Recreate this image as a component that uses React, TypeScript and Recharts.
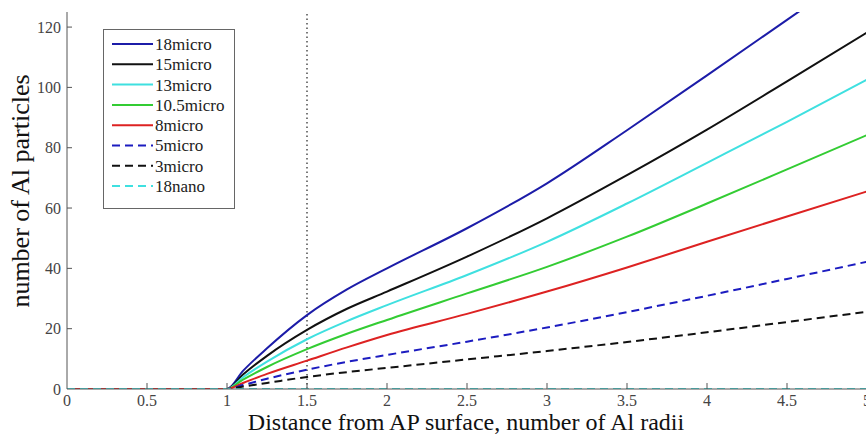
import React from "react";
import { LineChart, Line, XAxis, YAxis, ReferenceLine, Legend, Label } from "recharts";

// Distance from the AP surface, in Al radii
const distance = [0, 1, 1.1, 1.25, 1.5, 1.75, 2, 2.5, 3, 3.5, 4, 4.5, 5];

// Number of Al particles for each particle size
const s18micro = [0, 0, 6.0, 13.5, 24.5, 33.0, 40.0, 53.3, 68.2, 85.8, 104.0, 122.4, 140.8];
const s15micro = [0, 0, 4.8, 11.0, 19.6, 26.6, 32.3, 43.9, 56.6, 70.9, 86.0, 102.0, 118.2];
const s13micro = [0, 0, 3.9, 9.1, 16.5, 22.5, 27.8, 37.8, 48.8, 61.5, 75.0, 88.6, 102.6];
const s10p5micro = [0, 0, 3.1, 7.3, 13.2, 18.3, 22.9, 31.7, 40.5, 50.5, 61.5, 72.8, 84.2];
const s8micro = [0, 0, 2.0, 5.0, 9.4, 13.8, 17.9, 24.9, 32.3, 40.3, 48.8, 57.2, 65.5];
const s5micro = [0, 0, 1.3, 3.4, 6.4, 9.0, 11.3, 15.7, 20.4, 25.5, 30.9, 36.5, 42.2];
const s3micro = [0, 0, 0.8, 2.0, 4.0, 5.6, 7.0, 9.8, 12.6, 15.6, 18.8, 22.2, 25.6];
const s18nano = [0, 0, 0, 0, 0, 0, 0, 0, 0, 0, 0, 0, 0];

const xTicks = [0, 0.5, 1, 1.5, 2, 2.5, 3, 3.5, 4, 4.5, 5];
const yTicks = [0, 20, 40, 60, 80, 100, 120];
const markerDistance = 1.5;

const seriesList = [
  { key: "18micro", values: s18micro, color: "#1c1ca8", dash: undefined },
  { key: "15micro", values: s15micro, color: "#111111", dash: undefined },
  { key: "13micro", values: s13micro, color: "#3fe0e0", dash: undefined },
  { key: "10.5micro", values: s10p5micro, color: "#33cc33", dash: undefined },
  { key: "8micro", values: s8micro, color: "#dd2222", dash: undefined },
  { key: "5micro", values: s5micro, color: "#1c1cc0", dash: "8 5" },
  { key: "3micro", values: s3micro, color: "#111111", dash: "8 5" },
  { key: "18nano", values: s18nano, color: "#3fe0e0", dash: "8 5" },
];

const data = distance.map((d, i) => {
  const row: Record<string, number> = { d };
  seriesList.forEach((s) => {
    row[s.key] = s.values[i];
  });
  return row;
});

const SERIF = "'Liberation Serif', 'Times New Roman', serif";
const TICK_COLOR = "#444";
const AXIS_COLOR = "#555";

const CHART_W = 880;
const CHART_H = 437;
const PLOT_LEFT = 67;
const PLOT_TOP = 12;
const PLOT_BOTTOM = 389;
const TICK_MARGIN = 6;

const YTick = (props: any) => {
  const { x, y, payload } = props;
  const axisX = x + TICK_MARGIN;
  return (
    <g>
      <text x={x} y={y} dy="0.35em" textAnchor="end" fill={TICK_COLOR} fontFamily={SERIF} fontSize={16}>
        {payload.value}
      </text>
      {payload.value !== 0 && <line x1={axisX} x2={axisX + 5} y1={y} y2={y} stroke={AXIS_COLOR} strokeWidth={1} />}
    </g>
  );
};

const XTick = (props: any) => {
  const { x, y, payload } = props;
  const axisY = y - TICK_MARGIN;
  return (
    <g>
      <text x={x} y={y} dy="0.71em" textAnchor="middle" fill={TICK_COLOR} fontFamily={SERIF} fontSize={16}>
        {payload.value}
      </text>
      {payload.value !== 0 && <line x1={x} x2={x} y1={axisY} y2={axisY - 6} stroke={AXIS_COLOR} strokeWidth={1} />}
    </g>
  );
};

const LegendBox = () => {
  const rowH = 20.3;
  return (
    <svg width={132} height={180} style={{ display: "block" }}>
      <rect x={0.5} y={0.5} width={131} height={179} fill="#fff" stroke="#666" strokeWidth={1} />
      {seriesList.map((s, i) => {
        const cy = 15 + i * rowH;
        return (
          <g key={s.key}>
            <line x1={9} x2={50} y1={cy} y2={cy} stroke={s.color} strokeWidth={2} strokeDasharray={s.dash} />
            <text x={52} y={cy} dy="0.35em" fill="#222" fontFamily={SERIF} fontSize={17}>
              {s.key}
            </text>
          </g>
        );
      })}
    </svg>
  );
};

export default function App() {
  return (
    <div
      style={{
        position: "fixed",
        left: 0,
        top: 0,
        width: 866,
        height: 437,
        overflow: "hidden",
        background: "#fff",
      }}
    >
      <LineChart
        width={CHART_W}
        height={CHART_H}
        data={data}
        margin={{ top: PLOT_TOP, right: 13, left: 0, bottom: 0 }}
      >
        <XAxis
          dataKey="d"
          type="number"
          domain={[0, 5]}
          ticks={xTicks}
          tick={<XTick />}
          tickLine={false}
          tickSize={0}
          tickMargin={TICK_MARGIN}
          axisLine={{ stroke: AXIS_COLOR }}
          height={CHART_H - PLOT_BOTTOM}
          interval={0}
        >
          <Label
            content={() => (
              <text x={466} y={430} textAnchor="middle" fill="#111" fontFamily={SERIF} fontSize={24}>
                Distance from AP surface, number of Al radii
              </text>
            )}
          />
        </XAxis>
        <YAxis
          type="number"
          domain={[0, 125]}
          allowDataOverflow
          ticks={yTicks}
          tick={<YTick />}
          tickLine={false}
          tickSize={0}
          tickMargin={TICK_MARGIN}
          axisLine={{ stroke: AXIS_COLOR }}
          width={PLOT_LEFT}
          interval={0}
        >
          <Label
            content={() => (
              <text
                x={29}
                y={191}
                transform="rotate(-90 29 191)"
                textAnchor="middle"
                fill="#111"
                fontFamily={SERIF}
                fontSize={26}
              >
                number of Al particles
              </text>
            )}
          />
        </YAxis>
        <ReferenceLine x={markerDistance} stroke="#222" strokeDasharray="1.5 3" strokeWidth={1.2} />
        {seriesList.map((s) => (
          <Line
            key={s.key}
            dataKey={s.key}
            type="monotone"
            stroke={s.color}
            strokeWidth={2}
            strokeDasharray={s.dash}
            dot={false}
            activeDot={false}
            isAnimationActive={false}
          />
        ))}
        <Legend
          layout="vertical"
          align="center"
          verticalAlign="middle"
          content={<LegendBox />}
          wrapperStyle={{ position: "absolute", left: 103, top: 29, width: 132, height: 180 }}
        />
      </LineChart>
    </div>
  );
}
